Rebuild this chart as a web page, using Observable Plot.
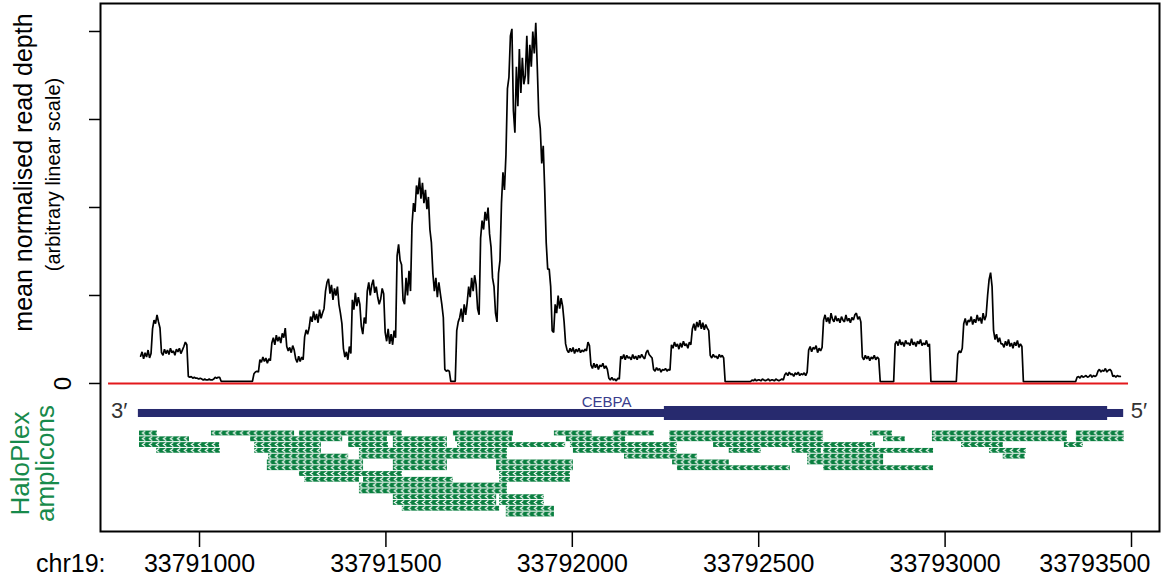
<!DOCTYPE html>
<html><head><meta charset="utf-8">
<script src="https://cdn.jsdelivr.net/npm/d3@7"></script>
<script src="https://cdn.jsdelivr.net/npm/@observablehq/plot@0.6"></script>
<style>html,body{margin:0;padding:0;background:#fff;} #chart{width:1164px;height:584px;}</style>
</head><body><div id="chart"></div>
<script>
// ---------------- data ----------------
const chrom = "chr19:";
const xTicks = [33791000, 33791500, 33792000, 33792500, 33793000, 33793500];
const xTickLabels = ["33791000", "33791500", "33792000", "33792500", "33793000", "33793500"];
const yTicks = [0, 1, 2, 3, 4];
const yTickLabels = ["0", "", "", "", ""];
const yLabel = "mean normalised read depth";
const ySubLabel = "(arbitrary linear scale)";
const trackLabel = ["HaloPlex", "amplicons"];

// region covered by the zero reference line
const zeroLine = [33790756, 33793492];

// gene model (CEBPA, minus strand)
const geneName = "CEBPA";
const geneTx = [33790836, 33793479];
const geneCds = [33792247, 33793436];
const geneLabelPos = 33792092;
const strandLabels = ["3\u2032", "5\u2032"];

// mean read depth, one value per 4-bp bin starting at depthStart
const depthStart = 33790842, depthStep = 4;
const depth = [
  .31,.36,.28,.35,.30,.38,.29,.34,
  .62,.72,.68,.78,.70,.63,
  .35,.32,.39,.34,.38,.33,.40,.35,.37,.32,.39,.36,.40,.34,.38,.42,.47,.44,
  .08,.07,.08,.06,.07,.06,.06,.05,.06,.05,
  .04,.05,.04,.04,.05,.04,.04,.05,
  .07,.06,.07,.07,
  .025,.025,.025,.025,.025,.025,.025,.025,.025,.025,.025,.025,.025,.025,.025,.025,.025,.025,.025,.025,.025,.025,
  .11,.13,.14,.13,
  .27,.24,.30,.25,.29,.23,.28,.26,
  .46,.52,.44,.55,.48,.53,.46,.57,.52,.63,
  .42,.37,.41,.35,.43,.38,
  .28,.24,.31,.25,.30,.27,
  .53,.61,.56,.63,
  .76,.70,.82,.72,.79,.69,.84,.74,.80,.85,
  1.05,1.15,1.19,1.02,1.12,.95,1.08,1.00,1.10,.90,
  .80,.68,
  .40,.30,.36,.27,.42,.34,
  .95,.84,1.03,.88,.98,.90,
  .65,.56,.75,.68,
  1.05,1.15,1.00,1.12,1.18,1.03,1.10,.98,.90,.96,1.08,1.02,
  .58,.48,.62,.45,.56,.44,.60,.52,
  1.45,1.58,1.40,1.35,
  .95,.90,
  1.20,1.00,1.28,1.05,
  1.80,2.05,1.95,2.25,2.15,2.34,2.10,2.28,2.05,2.20,1.98,2.12,1.75,1.60,
  1.25,1.05,1.20,.98,1.15,1.02,
  .90,.75,
  .16,.14,.15,.14,
  .025,.025,.025,.025,
  .60,.70,
  .75,.85,.70,.90,.78,.92,
  1.10,.98,1.20,1.05,1.23,1.12,
  .85,.78,
  1.65,1.85,1.75,1.95,1.85,2.00,1.70,1.55,
  1.20,1.10,
  .80,.70,
  1.25,1.40,
  2.05,2.40,2.20,2.60,
  3.35,3.48,
  3.95,4.03,
  3.10,2.85,
  3.60,3.15,3.80,3.30,3.70,3.40,
  3.50,3.95,3.40,3.85,3.60,4.00,3.75,4.10,
  3.60,3.05,
  2.90,2.50,2.70,2.20,
  1.60,1.30,
  1.30,1.10,
  .60,.58,
  .90,.80,1.00,.85,.97,.88,
  .70,.45,
  .38,.35,.40,.36,.41,.34,.39,.36,.40,.35,.38,.36,.39,.37,.47,.43,
  .21,.17,.23,.18,.22,.16,.21,.19,.23,.17,.20,.16,
  .06,.04,.07,.04,.05,.03,.06,.05,
  .31,.28,.33,.27,.32,.29,.30,.27,.33,.28,.31,.27,.32,.29,.33,.30,.28,.35,.38,.33,.31,.29,
  .16,.14,.18,.15,.17,.13,.16,.15,.17,.14,.16,.15,
  .44,.40,.47,.42,.45,.39,.46,.41,.48,.43,.45,.40,.47,.44,
  .62,.68,.60,.70,.64,.72,.62,.69,.61,.67,.63,.60,
  .32,.29,.33,.30,.31,.28,.33,.30,.32,.29,
  .02,.02,.02,.02,.02,.02,.02,.02,.02,.02,.02,.02,.02,.02,.02,.02,.02,.02,
  .04,.03,.05,.03,.04,.04,.03,.05,.04,.03,.04,.05,.03,.04,.04,.03,.05,.04,.03,.04,.05,.04,
  .10,.12,.09,.13,.10,.11,.08,.12,.10,.13,.09,.11,.10,.12,.09,.13,
  .38,.42,.36,.41,.39,.43,.35,.40,.37,.41,
  .72,.78,.70,.75,.68,.80,.73,.70,.77,.71,.74,.69,.76,.72,.70,.78,.71,.74,.69,.75,.72,.78,.80,.73,.76,.70,
  .30,.27,.32,.28,.31,.26,.30,.28,.32,.27,.30,.28,
  .02,.02,.02,.02,.02,.02,.02,.02,.02,.02,
  .45,.48,.43,.50,.44,.47,.42,.49,.45,.46,.43,.51,.44,.47,.42,.48,.45,.50,.43,.46,.44,.49,.42,.45,
  .02,.02,.02,.02,.02,.02,.02,.02,.02,.02,.02,.02,.02,.02,.02,.02,.02,.02,
  .33,.37,.35,.40,
  .68,.74,.66,.72,.70,.76,.67,.73,.69,.78,.71,.75,.68,.80,.72,.77,
  1.00,1.18,1.26,1.10,
  .60,.50,.56,.47,.52,.45,
  .45,.41,.48,.43,.50,.42,.46,.40,.47,.43,.49,.41,.45,.42,
  .02,.02,.02,.02,.02,.02,.02,.02,.02,.02,.02,.02,.02,.02,.02,.02,.02,.02,
  .02,.02,.02,.02,.02,.02,.02,.02,.02,.02,.02,.02,.02,.02,.02,.02,.02,.02,
  .07,.08,.06,.09,.07,.08,.09,.07,.08,.10,.07,.09,.08,.09,
  .14,.16,.13,.15,.14,.17,.13,.15,.16,.14,
  .08,.09,.07,.09,.08,.08
];

// HaloPlex amplicons (all minus strand): start, end, stacking row
const ampStart = [
  33790839,33791032,33791268,33791681,33791952,33792110,33792261,33792800,33792966,33793352,
  33790839,33791137,33791400,33791520,33791687,33791984,33792261,33792835,33792966,33793352,
  33790839,33791148,33791400,33791520,33791692,33791995,33792379,33793044,33793320,
  33790885,33791148,33791429,33792003,33792421,33792590,33792674,33793119,
  33791185,33791429,33792140,33792631,33793156,
  33791182,33791520,33791797,33792269,33792631,
  33791182,33791520,33791797,33792282,33792674,
  33791268,33791805,
  33791282,33791440,33791805,
  33791429,
  33791429,
  33791520,33791805,
  33791520,33791805,
  33791544,33791823,
  33791823
];
const ampEnd = [
  33790887,33791255,33791544,33791842,33792054,33792220,33792674,33792859,33793328,33793481,
  33790973,33791384,33791504,33791665,33791839,33792143,33792674,33792893,33793328,33793481,
  33791054,33791327,33791507,33791665,33791982,33792282,33792813,33793156,33793371,
  33791056,33791327,33791826,33792282,33792507,33792668,33792969,33793218,
  33791400,33791826,33792336,33792835,33793215,
  33791440,33791665,33792003,33792421,33792835,
  33791440,33791665,33792003,33792585,33792969,
  33791544,33791995,
  33791429,33791681,33791995,
  33791826,
  33791826,
  33791797,33791925,
  33791797,33791925,
  33791805,33791952,
  33791952
];
const ampRow = [
  0,0,0,0,0,0,0,0,0,0,
  1,1,1,1,1,1,1,1,1,1,
  2,2,2,2,2,2,2,2,2,
  3,3,3,3,3,3,3,3,
  4,4,4,4,4,
  5,5,5,5,5,
  6,6,6,6,6,
  7,7,
  8,8,8,
  9,
  10,
  11,11,
  12,12,
  13,13,
  14
];

// ---------------- layout / style ----------------
const navy = "#272a6e", green = "#0a7f40", labelGreen = "#178a4b", red = "#e3191c";
const font = "'Liberation Sans', Arial, Helvetica, sans-serif";
const geneY = -0.341, thinHalf = 0.0455, thickHalf = 0.0795;
const ampRow0 = -0.568, ampRowStep = 0.0658, ampHalf = 0.0272;
const rowY = r => ampRow0 - r * ampRowStep;

const depthData = depth.map((v, i) => ({pos: depthStart + i * depthStep, v}));
const amps = ampStart.map((s, i) => ({s, e: ampEnd[i], r: ampRow[i]}));
const gene = [{tx0: geneTx[0], tx1: geneTx[1], c0: geneCds[0], c1: geneCds[1]}];

const plot = Plot.plot({
  width: 1164, height: 584,
  marginLeft: 100, marginRight: 5, marginTop: 3, marginBottom: 53,
  x: {domain: [33790734.4, 33793575.1]},
  y: {domain: [-1.682, 4.318]},
  style: {fontFamily: font, background: "white", overflow: "visible", color: "black"},
  marks: [
    Plot.axisY(yTicks, {tickSize: 11, tickFormat: () => "", strokeWidth: 1.5, label: null}),
    Plot.axisX(xTicks, {tickSize: 16, tickFormat: () => "", strokeWidth: 1.5, label: null}),
    // y tick label "0"
    Plot.text(yTicks.filter((d, i) => yTickLabels[i] !== ""), {
      y: d => d, text: d => yTickLabels[yTicks.indexOf(d)], frameAnchor: "left",
      textAnchor: "middle", rotate: -90, dx: -37, fontSize: 24, fill: "black"}),
    // x tick labels
    Plot.text(xTicks.slice(0, 5), {x: d => d, text: (d, i) => xTickLabels[i], frameAnchor: "bottom",
      dy: 40, fontSize: 25, fill: "black"}),
    Plot.text(xTicks.slice(5), {x: d => d, text: () => xTickLabels[5], frameAnchor: "bottom",
      textAnchor: "end", dx: 19, dy: 40, fontSize: 25, fill: "black"}),
    Plot.text([chrom], {text: d => d, frameAnchor: "bottom-left", textAnchor: "end", dx: 5, dy: 40, fontSize: 25, fill: "black"}),
    // axis titles
    Plot.text([yLabel], {text: d => d, frameAnchor: "left", textAnchor: "middle", rotate: -90, dx: -77, dy: -95, fontSize: 25, fill: "black"}),
    Plot.text([ySubLabel], {text: d => d, frameAnchor: "left", textAnchor: "middle", rotate: -90, dx: -47, dy: -93, fontSize: 20, fill: "black"}),
    Plot.text([trackLabel[0]], {text: d => d, frameAnchor: "left", textAnchor: "middle", rotate: -90, dx: -80, dy: 196, fontSize: 26, fill: labelGreen}),
    Plot.text([trackLabel[1]], {text: d => d, frameAnchor: "left", textAnchor: "middle", rotate: -90, dx: -55, dy: 196, fontSize: 26, fill: labelGreen}),
    // gene model
    Plot.rect(gene, {x1: d => d.tx0, x2: d => d.tx1, y1: geneY - thinHalf, y2: geneY + thinHalf, fill: navy}),
    Plot.rect(gene, {x1: d => d.c0, x2: d => d.c1, y1: geneY - thickHalf, y2: geneY + thickHalf, fill: navy}),
    Plot.text([geneName], {x: geneLabelPos, y: geneY + 0.125, text: d => d, fontSize: 15, fill: "#3a3e8c"}),
    Plot.text([strandLabels[0]], {x: geneTx[0], y: geneY, text: d => d, textAnchor: "end", dx: -11, dy: -3, fontSize: 22, fill: "#333"}),
    Plot.text([strandLabels[1]], {x: geneTx[1], y: geneY, text: d => d, textAnchor: "start", dx: 7, dy: -3, fontSize: 22, fill: "#333"}),
    // amplicons
    Plot.rect(amps, {x1: d => d.s, x2: d => d.e, y1: d => rowY(d.r) - ampHalf, y2: d => rowY(d.r) + ampHalf, fill: "url(#chev)"}),
    // depth
    Plot.line(depthData, {x: "pos", y: "v", stroke: "black", strokeWidth: 1.7, strokeLinejoin: "miter"}),
    Plot.ruleY([0], {x1: zeroLine[0], x2: zeroLine[1], stroke: red, strokeWidth: 2}),
    Plot.frame({stroke: "black", strokeWidth: 2})
  ]
});

// chevron pattern aligned on the amplicon rows
const ys = plot.scale("y");
const top0 = ys.apply(rowY(0) + ampHalf);
const stepPx = ys.apply(rowY(1)) - ys.apply(rowY(0));
const hPx = ys.apply(rowY(0) - ampHalf) - top0;
const pat = d3.select(plot).insert("defs", ":first-child").append("pattern")
  .attr("id", "chev").attr("patternUnits", "userSpaceOnUse")
  .attr("x", 0).attr("y", top0).attr("width", 7).attr("height", stepPx);
pat.append("rect").attr("width", 7).attr("height", stepPx).attr("fill", green);
pat.append("polyline")
  .attr("points", `5.3,0.5 2.3,${hPx / 2} 5.3,${hPx - 0.5}`)
  .attr("fill", "none").attr("stroke", "white").attr("stroke-width", 1.1);

document.getElementById("chart").appendChild(plot);
</script></body></html>
